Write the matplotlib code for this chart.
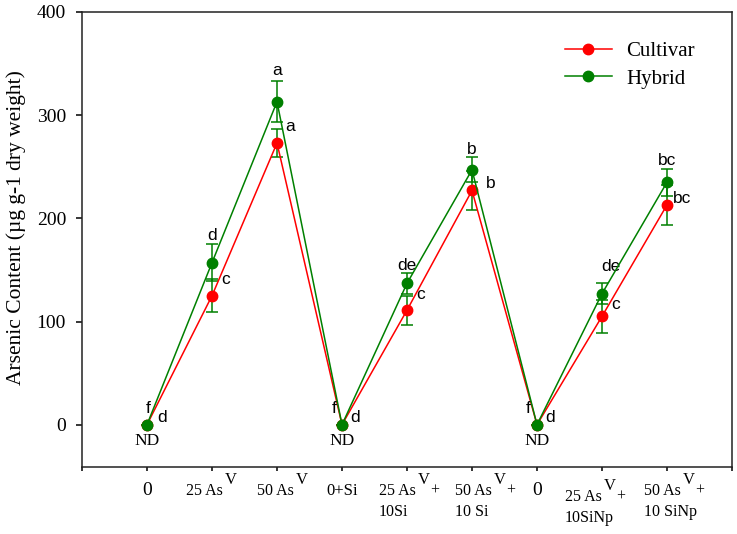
import matplotlib
matplotlib.use("Agg")
import matplotlib.pyplot as plt
import numpy as np

plt.rcParams['font.family'] = ['Liberation Serif', 'DejaVu Serif']

# treatments along x
x_main = ["0", "25 As", "50 As", "0+Si", "25 As", "50 As", "0", "25 As", "50 As"]
x_sup = ["", "V", "V", "", "V", "V", "", "V", "V"]
x_tail = ["", "", "", "", "+", "+", "", "+", "+"]
x_line2 = ["", "", "", "", "10Si", "10 Si", "", "10SiNp", "10 SiNp"]

# arsenic content, ug g-1 dry weight
cultivar = [0, 125, 273, 0, 111, 227, 0, 105, 213]
cultivar_err = [0, 16, 14, 0, 14, 19, 0, 16, 19]
hybrid = [0, 157, 313, 0, 137, 247, 0, 127, 235]
hybrid_err = [0, 18, 20, 0, 10, 12, 0, 10, 13]

# significance letters
cultivar_letters = ["d", "c", "a", "d", "c", "b", "d", "c", "bc"]
hybrid_letters = ["f", "d", "a", "f", "de", "b", "f", "de", "bc"]

# label placement (pixels)
x_dx = [None, -26, -20, None, -28, -17, None, -37, -23]
x_dy = [0, 0, 0, 0, 0, 0, 0, 6, 0]
hyb_off = [(1, 12), (0, 4), (0, 6), (-8, 12), (0, 3), (0, 3), (-9, 12), (9, 12), (0, 4)]
cul_off = [(10, 3), (9, 12), (8, 12), (8, 3), (9, 11), (14, 2), (8, 3), (9, 7), (6, 2)]

RED = "#ff0000"
GREEN = "#008000"

fig = plt.figure(figsize=(7.37, 5.34), dpi=100)
ax = fig.add_axes([82 / 737, (534 - 467) / 534, 650 / 737, 455 / 534])

x = np.arange(len(cultivar))

ax.errorbar(x, cultivar, yerr=cultivar_err, fmt='none', ecolor=GREEN,
            elinewidth=1.1, capsize=4.5, capthick=1.1, zorder=2)
ax.errorbar(x, hybrid, yerr=hybrid_err, fmt='none', ecolor=GREEN,
            elinewidth=1.1, capsize=4.5, capthick=1.1, zorder=2)
ax.plot(x, cultivar, color=RED, lw=1.1, marker='o', ms=7.5, mec=RED,
        label="Cultivar", zorder=3)
ax.plot(x, hybrid, color=GREEN, lw=1.1, marker='o', ms=7.5, mec=GREEN,
        label="Hybrid", zorder=4)

# letters
for i in x:
    ax.annotate(hybrid_letters[i], xy=(i, hybrid[i] + hybrid_err[i]),
                xytext=hyb_off[i], textcoords='offset pixels', ha='center',
                va='baseline', fontsize=12.5, family='Liberation Sans')
    ax.annotate(cultivar_letters[i], xy=(i, cultivar[i]),
                xytext=cul_off[i], textcoords='offset pixels', ha='left',
                va='baseline', fontsize=12.5, family='Liberation Sans')
    if cultivar[i] == 0 and hybrid[i] == 0:
        ax.annotate("ND", xy=(i, 0), xytext=(0, -20), textcoords='offset pixels',
                    ha='center', va='baseline', fontsize=12.5)

ax.set_xlim(-1, 9)
ax.set_ylim(-41, 400)
ax.set_yticks([0, 100, 200, 300, 400])
ax.set_xticks(np.arange(-1, 10))
ax.set_xticklabels([])
ax.tick_params(axis='y', direction='out', length=4.5, width=1.1, labelsize=14, pad=7)
ax.tick_params(axis='x', direction='out', length=3, width=1.1)
for s in ax.spines.values():
    s.set_linewidth(1.1)
    s.set_color("#222222")

# x tick labels
xt = ax.get_xaxis_transform()
for i in x:
    base = -28 - x_dy[i]
    if x_dx[i] is None:
        ax.annotate(x_main[i], xy=(i, 0), xycoords=xt, xytext=(0, base),
                    textcoords='offset pixels', ha='center', va='baseline',
                    fontsize=14 if x_main[i] == "0" else 12,
                    annotation_clip=False)
        continue
    t1 = ax.annotate(x_main[i], xy=(i, 0), xycoords=xt, xytext=(x_dx[i], base),
                     textcoords='offset pixels', ha='left', va='baseline',
                     fontsize=11.5, annotation_clip=False)
    tv = ax.annotate(x_sup[i], xy=(1, 0), xycoords=(t1, "axes fraction"),
                     xytext=(2, base + 11), textcoords='offset pixels',
                     ha='left', va='baseline', fontsize=12, annotation_clip=False)
    if x_tail[i]:
        ax.annotate(x_tail[i], xy=(1, 0), xycoords=(tv, "axes fraction"),
                    xytext=(0, base), textcoords='offset pixels', ha='left',
                    va='baseline', fontsize=11.5, annotation_clip=False)
    if x_line2[i]:
        ax.annotate(x_line2[i], xy=(i, 0), xycoords=xt, xytext=(x_dx[i], base - 21),
                    textcoords='offset pixels', ha='left', va='baseline',
                    fontsize=11.5, annotation_clip=False)

ax.set_ylabel("Arsenic Content (\u00b5g g-1 dry weight)", fontsize=15.5)
ax.yaxis.set_label_coords(-0.086, 0.526)

ax.legend(loc='center left', bbox_to_anchor=((565 - 82) / 650, (467 - 65) / 455),
          frameon=False, fontsize=15, handlelength=2.25, handletextpad=0.7,
          labelspacing=0.4, borderpad=0, borderaxespad=0)

fig.savefig("out.png", dpi=100)
